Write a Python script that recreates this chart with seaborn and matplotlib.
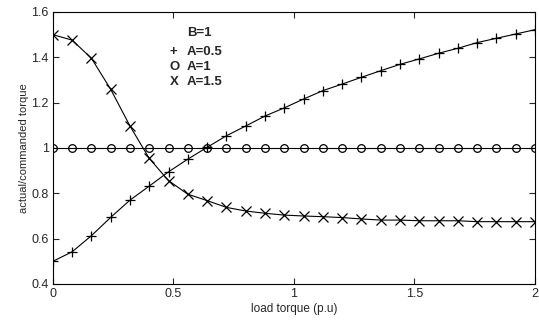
import matplotlib
matplotlib.use("Agg")
import matplotlib.pyplot as plt
import numpy as np
import pandas as pd
import seaborn as sns

# load torque (p.u), markers every 0.08
load = [0.00, 0.08, 0.16, 0.24, 0.32, 0.40, 0.48, 0.56, 0.64, 0.72, 0.80, 0.88, 0.96,
        1.04, 1.12, 1.20, 1.28, 1.36, 1.44, 1.52, 1.60, 1.68, 1.76, 1.84, 1.92, 2.00]

ratio_a05 = [0.500, 0.542, 0.613, 0.694, 0.770, 0.832, 0.895, 0.951, 1.003, 1.054,
             1.097, 1.141, 1.177, 1.216, 1.253, 1.282, 1.312, 1.341, 1.369, 1.393,
             1.418, 1.440, 1.465, 1.484, 1.503, 1.522]
ratio_a1 = [1.0] * 26
ratio_a15 = [1.500, 1.476, 1.396, 1.259, 1.097, 0.954, 0.856, 0.796, 0.768, 0.738,
             0.722, 0.712, 0.704, 0.700, 0.697, 0.693, 0.687, 0.682, 0.682, 0.679,
             0.679, 0.679, 0.675, 0.675, 0.675, 0.675]

xticks = [0, 0.5, 1, 1.5, 2]
xticklabels = ["0", "0.5", "1", "1.5", "2"]
yticks = [0.4, 0.6, 0.8, 1.0, 1.2, 1.4, 1.6]
yticklabels = ["0.4", "0.6", "0.8", "1", "1.2", "1.4", "1.6"]

sns.set_style("ticks")
plt.rcParams['font.family'] = ['Liberation Sans', 'DejaVu Sans']

fig = plt.figure(figsize=(5.39, 3.20), dpi=100)
ax = fig.add_axes([0.098, 0.1125, 0.8946, 0.85])

common = dict(color="black", linewidth=0.8, markeredgewidth=0.9, markeredgecolor="black")
sns.lineplot(x=load, y=ratio_a05, ax=ax, marker="+", markersize=6.5, **common)
sns.lineplot(x=load, y=ratio_a1, ax=ax, marker="o", markersize=5.5,
             markerfacecolor="none", **common)
sns.lineplot(x=load, y=ratio_a15, ax=ax, marker="x", markersize=7, **common)

ax.set_xlim(0, 2)
ax.set_ylim(0.4, 1.6)
ax.set_xticks(xticks)
ax.set_xticklabels(xticklabels, fontsize=9)
ax.set_yticks(yticks)
ax.set_yticklabels(yticklabels, fontsize=9)
ax.tick_params(direction="in", top=True, right=True, length=4, width=0.8, pad=3)
for s in ax.spines.values():
    s.set_visible(True)
    s.set_linewidth(0.8)
    s.set_color("black")

ax.set_xlabel("load torque (p.u)", fontsize=8.5, labelpad=2)
ax.set_ylabel("actual/commanded torque", fontsize=8, labelpad=2)

# legend written as text, like the original
tx_sym = (170 - 53) / 482
tx_lab = (187 - 53) / 482
rows = [(None, "B=1", 33), ("+", "A=0.5", 52), ("O", "A=1", 67), ("X", "A=1.5", 82)]
for sym, lab, py in rows:
    yy = (284 - py) / 272
    if sym is not None:
        ax.text(tx_sym, yy, sym, transform=ax.transAxes, fontsize=9.5,
                fontweight="bold", va="center", ha="left")
    ax.text(tx_lab, yy, lab, transform=ax.transAxes, fontsize=9.5,
            fontweight="bold", va="center", ha="left")

fig.savefig("out.png", dpi=100)
